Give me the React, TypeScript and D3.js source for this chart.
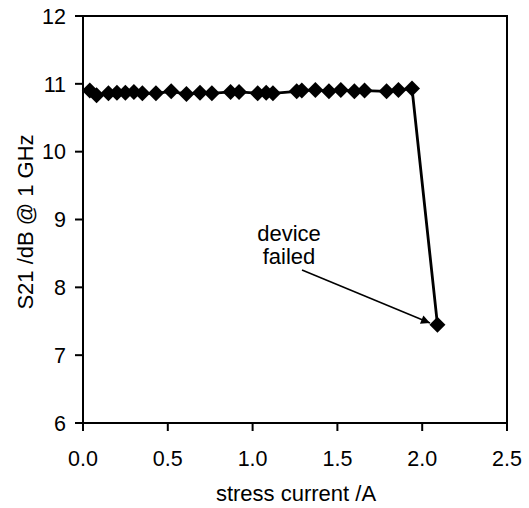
import React, { useEffect, useRef } from 'react';
import * as d3 from 'd3';

const current = [0.04, 0.08, 0.15, 0.2, 0.25, 0.3, 0.35, 0.43, 0.52, 0.61, 0.69, 0.76, 0.87, 0.92, 1.03, 1.08, 1.12, 1.26, 1.29, 1.37, 1.45, 1.52, 1.6, 1.66, 1.79, 1.86, 1.94, 2.09];
const s21 = [10.9, 10.83, 10.86, 10.87, 10.87, 10.88, 10.86, 10.86, 10.89, 10.85, 10.87, 10.86, 10.88, 10.88, 10.86, 10.87, 10.86, 10.89, 10.9, 10.91, 10.89, 10.91, 10.89, 10.9, 10.89, 10.91, 10.93, 7.45];
const xTicks = [0, 0.5, 1, 1.5, 2, 2.5];
const yTicks = [6, 7, 8, 9, 10, 11, 12];

const W = 529;
const H = 508;
const font = 'Arial, "Liberation Sans", sans-serif';

const App = () => {
  const ref = useRef<SVGGElement>(null);

  useEffect(() => {
    const x = d3.scaleLinear().domain([0, 2.5]).range([83, 507]);
    const y = d3.scaleLinear().domain([6, 12]).range([423, 16]);
    const g = d3.select(ref.current);
    g.selectAll('*').remove();

    // frame
    g.append('rect')
      .attr('x', x(0)).attr('y', y(12))
      .attr('width', x(2.5) - x(0)).attr('height', y(6) - y(12))
      .attr('fill', 'none').attr('stroke', '#000').attr('stroke-width', 2);

    // x ticks
    const xt = g.selectAll('g.xt').data(xTicks).enter().append('g').attr('class', 'xt')
      .attr('transform', d => `translate(${x(d)},${y(6)})`);
    xt.append('line').attr('y2', 8).attr('stroke', '#000').attr('stroke-width', 2);
    xt.append('text').attr('y', 43).attr('text-anchor', 'middle')
      .style('font-family', font).style('font-size', '21.5px')
      .text(d => d3.format('.1f')(d));

    // y ticks
    const yt = g.selectAll('g.yt').data(yTicks).enter().append('g').attr('class', 'yt')
      .attr('transform', d => `translate(${x(0)},${y(d)})`);
    yt.append('line').attr('x2', -8).attr('stroke', '#000').attr('stroke-width', 2);
    yt.append('text').attr('x', -17).attr('dy', '0.36em').attr('text-anchor', 'end')
      .style('font-family', font).style('font-size', '21.5px')
      .text(d => d);

    // axis titles
    g.append('text').attr('x', 296).attr('y', 501).attr('text-anchor', 'middle')
      .style('font-family', font).style('font-size', '22px')
      .text('stress current /A');
    g.append('text').attr('transform', 'translate(33,222) rotate(-90)').attr('text-anchor', 'middle')
      .style('font-family', font).style('font-size', '22px')
      .text('S21 /dB @ 1 GHz');

    // series line
    const pts = current.map((c, i) => [c, s21[i]] as [number, number]);
    const line = d3.line<[number, number]>().x(d => x(d[0])).y(d => y(d[1]));
    g.append('path').attr('d', line(pts)).attr('fill', 'none')
      .attr('stroke', '#000').attr('stroke-width', 2.8);

    // diamonds
    const r = 8;
    g.selectAll('path.pt').data(pts).enter().append('path').attr('class', 'pt')
      .attr('d', `M0,${-r}L${r},0L0,${r}L${-r},0Z`)
      .attr('transform', d => `translate(${x(d[0])},${y(d[1])})`)
      .attr('fill', '#000');

    // annotation
    g.append('text').attr('x', 289).attr('y', 241).attr('text-anchor', 'middle')
      .style('font-family', font).style('font-size', '22px').text('device');
    g.append('text').attr('x', 289).attr('y', 264).attr('text-anchor', 'middle')
      .style('font-family', font).style('font-size', '22px').text('failed');

    g.append('defs').append('marker').attr('id', 'ah')
      .attr('viewBox', '0 0 10 10').attr('refX', 10).attr('refY', 5)
      .attr('markerWidth', 13).attr('markerHeight', 9).attr('markerUnits', 'userSpaceOnUse')
      .attr('orient', 'auto')
      .append('path').attr('d', 'M0,0L10,5L0,10Z').attr('fill', '#000');
    g.append('line').attr('x1', 302).attr('y1', 270).attr('x2', 430).attr('y2', 323)
      .attr('stroke', '#000').attr('stroke-width', 1.5).attr('marker-end', 'url(#ah)');
  }, []);

  return (
    <svg width={W} height={H} style={{ position: 'absolute', left: 0, top: 0, background: '#fff' }}>
      <g ref={ref} />
    </svg>
  );
};

export default App;
